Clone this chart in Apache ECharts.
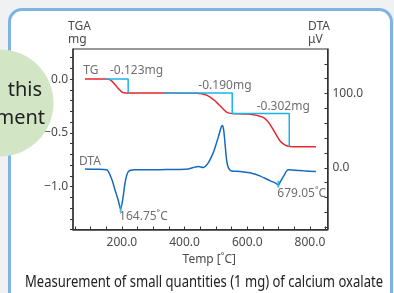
<!DOCTYPE html>
<html>
<head>
<meta charset="utf-8">
<script src="https://cdn.jsdelivr.net/npm/echarts@6/dist/echarts.min.js"></script>
<style>
  html, body { margin: 0; padding: 0; background: #eff1f3; overflow: hidden; }
  #frame {
    position: absolute; left: 8px; top: 8px; width: 385px; height: 300px;
    box-sizing: border-box; border: 3px solid #7fb3e4; border-radius: 14px; background: #fff;
  }
  #chart { position: absolute; left: 0; top: 0; width: 394px; height: 293px; }
</style>
</head>
<body>
<div id="frame"></div>
<div id="chart"></div>
<script>
// TG curve (mg) against temperature
const tgTemp = [82, 150, 158, 167, 175, 183, 191, 199, 207, 215, 230, 300, 400, 440, 455, 470, 484, 497, 508, 518, 527, 534, 542, 552,
  570, 600, 620, 640, 651, 662, 672, 680, 688, 696, 704, 715, 726, 736, 760, 819]
const tgMass = [0, 0, -0.003, -0.016, -0.040, -0.068, -0.095, -0.118, -0.127, -0.130, -0.130, -0.130, -0.131, -0.131, -0.137, -0.149,
  -0.172, -0.202, -0.234, -0.263, -0.290, -0.308, -0.317, -0.321, -0.322, -0.326, -0.333, -0.345, -0.357, -0.383, -0.419, -0.457,
  -0.496, -0.536, -0.574, -0.604, -0.621, -0.628, -0.630, -0.630]

// step markers of the mass loss analysis
const step1Temp = [149, 220, 220]
const step1Mass = [0, 0, -0.130]
const step2Temp = [331, 552, 552, 734, 734]
const step2Mass = [-0.130, -0.130, -0.321, -0.321, -0.630]

// DTA curve (uV)
const dtaTemp = [82, 120, 151, 157, 162, 170, 178, 188, 196, 204, 210, 220, 241, 289, 350, 412, 433, 444, 459, 475, 491, 500, 508,
  514, 518, 521, 525, 530, 535, 540, 548, 577, 614, 640, 672, 690, 699, 707, 715, 731, 750, 779, 819]
const dtaSignal = [-1.4, -1.8, -2.7, -5, -9.5, -18, -29.7, -43, -55.5, -38.8, -20.7, -5.4, -2.7, -2.7, -2.2, -1.4, 1.0, 1.8, 0.4,
  6.4, 19.9, 31, 42, 51, 56, 57, 50, 28, 8, 0, -3.8, -5, -7.2, -10.8, -17.2, -20.5, -23, -17.5, -11.8, -2.7, -3.2, -4, -5]

const peakTemp = [196, 699]
const peakSignal = [-55, -22]

// annotations, anchored in data space
const tgNotes = [['TG', 77, 0.077], ['-0.123mg', 162, 0.077], ['-0.190mg', 444, -0.056], ['-0.302mg', 630, -0.258]]
const dtaNotes = [['DTA', 63, 8.5], ['164.75˚C', 191, -65], ['679.05˚C', 696, -35]]

// ticks and labels
const xTicks = [50, 100, 150, 200, 250, 300, 350, 400, 450, 500, 550, 600, 650, 700, 750, 800, 850]
const xLabels = [200, 400, 600, 800]
const tgTicks = [-1.4, -1.3, -1.2, -1.1, -1.0, -0.9, -0.8, -0.7, -0.6, -0.5, -0.4, -0.3, -0.2, -0.1, 0, 0.1, 0.2]
const tgLabels = [-1.0, -0.5, 0]
const dtaTicks = [-80, -60, -40, -20, 0, 20, 40, 60, 80, 100, 120, 140]
const dtaLabels = [0, 100]

const zip = (a, b) => a.map((v, i) => [v, b[i]])
const fmt = v => (v < 0 ? '−' : '') + Math.abs(v).toFixed(1)

const FONT = 'Noto Sans'
const TXT = '#4a4a4a'
const RED = '#e8262e'
const CYAN = '#1bb3ea'
const BLUE = '#1769bd'

const chart = echarts.init(document.getElementById('chart'))

const noteSeries = (notes, yi) => ({
  type: 'scatter',
  yAxisIndex: yi,
  silent: true,
  symbolSize: 1,
  itemStyle: { color: 'rgba(0,0,0,0)' },
  data: notes.map(n => [n[1], n[2], n[0]]),
  label: {
    show: true, position: 'inside', align: 'left', verticalAlign: 'middle',
    formatter: p => p.data[2], color: TXT, fontSize: 12, fontFamily: FONT
  },
  z: 6
})

const option = {
  animation: false,
  textStyle: { fontFamily: FONT },
  grid: { left: 73, right: 66.5, top: 49, bottom: 63.5, show: true, borderColor: '#333', borderWidth: 1 },
  xAxis: {
    type: 'value', min: 44, max: 856,
    name: 'Temp [˚C]', nameLocation: 'middle', nameGap: 21,
    nameTextStyle: { color: TXT, fontSize: 12, padding: [0, 0, 0, 18] },
    axisLine: { show: true, onZero: false, lineStyle: { color: '#333', width: 1.5 } },
    axisTick: { show: true, inside: true, length: 3, customValues: xTicks, lineStyle: { color: '#333' } },
    axisLabel: { customValues: xLabels, formatter: v => v.toFixed(1), color: TXT, fontSize: 12, margin: 7 },
    splitLine: { show: false }
  },
  yAxis: [
    {
      type: 'value', min: -1.4, max: 0.28, position: 'left',
      axisLine: { show: true, onZero: false, lineStyle: { color: '#333', width: 1.5 } },
      axisTick: { show: true, length: 3, customValues: tgTicks, lineStyle: { color: '#333' } },
      axisLabel: { customValues: tgLabels, formatter: fmt, color: TXT, fontSize: 12, margin: 5 },
      splitLine: { show: false }
    },
    {
      type: 'value', min: -83, max: 160, position: 'right',
      axisLine: { show: true, onZero: false, lineStyle: { color: '#333', width: 1.5 } },
      axisTick: { show: true, inside: true, length: 3, customValues: dtaTicks, lineStyle: { color: '#333' } },
      axisLabel: { customValues: dtaLabels, formatter: fmt, color: TXT, fontSize: 12, margin: 5 },
      splitLine: { show: false }
    }
  ],
  series: [
    {
      name: 'TG', type: 'line', yAxisIndex: 0, silent: true, showSymbol: false, smooth: 0.3,
      data: zip(tgTemp, tgMass), lineStyle: { color: RED, width: 1.5 }, z: 3
    },
    {
      type: 'line', yAxisIndex: 0, silent: true, showSymbol: false,
      data: zip(step1Temp, step1Mass), lineStyle: { color: CYAN, width: 1.5 }, z: 4
    },
    {
      type: 'line', yAxisIndex: 0, silent: true, showSymbol: false,
      data: zip(step2Temp, step2Mass), lineStyle: { color: CYAN, width: 1.5 }, z: 4
    },
    {
      name: 'DTA', type: 'line', yAxisIndex: 1, silent: true, showSymbol: false, smooth: 0.3,
      data: zip(dtaTemp, dtaSignal), lineStyle: { color: BLUE, width: 1.5 }, z: 3
    },
    {
      type: 'scatter', yAxisIndex: 1, silent: true, symbol: 'rect', symbolSize: [2, 7],
      itemStyle: { color: CYAN }, data: zip(peakTemp, peakSignal), z: 5
    },
    noteSeries(tgNotes, 0),
    noteSeries(dtaNotes, 1)
  ],
  graphic: [
    { type: 'text', x: 68, y: 26.7, style: { text: 'TGA', fill: TXT, fontSize: 12, fontFamily: FONT, align: 'left', verticalAlign: 'middle' } },
    { type: 'text', x: 68, y: 39.3, style: { text: 'mg', fill: TXT, fontSize: 12, fontFamily: FONT, align: 'left', verticalAlign: 'middle' } },
    { type: 'text', x: 308, y: 26.7, style: { text: 'DTA', fill: TXT, fontSize: 12, fontFamily: FONT, align: 'left', verticalAlign: 'middle' } },
    { type: 'text', x: 308, y: 39.3, style: { text: 'μV', fill: TXT, fontSize: 12, fontFamily: FONT, align: 'left', verticalAlign: 'middle' } },
    {
      type: 'text', x: 204, y: 282.5, scaleX: 0.815,
      style: { text: 'Measurement of small quantities (1 mg) of calcium oxalate', fill: '#222', fontSize: 16, fontFamily: FONT, align: 'center', verticalAlign: 'middle' }
    },
    { type: 'circle', shape: { cx: 0, cy: 103, r: 53.5 }, style: { fill: '#d2e5c5' }, z: 50 },
    { type: 'text', x: 42, y: 90, z: 51, style: { text: 'this', fill: '#222', fontSize: 20, fontFamily: FONT, align: 'right', verticalAlign: 'middle' } },
    { type: 'text', x: 45, y: 118, z: 51, style: { text: 'ment', fill: '#222', fontSize: 20, fontFamily: FONT, align: 'right', verticalAlign: 'middle' } }
  ]
}

chart.setOption(option)
</script>
</body>
</html>
